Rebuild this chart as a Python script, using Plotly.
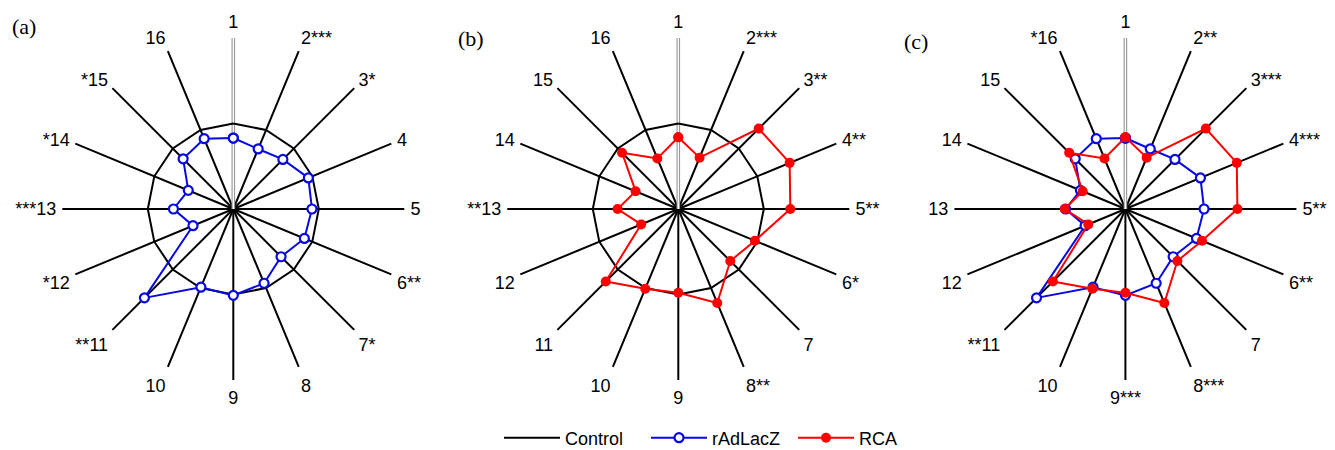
import plotly.graph_objects as go

n_spokes = 16
spoke_ids = list(range(1, n_spokes + 1))

control = [1.0] * 16
radlacz = [0.83, 0.76, 0.82, 0.95, 0.92, 0.90, 0.79, 0.94, 1.01, 0.99, 1.47, 0.51, 0.70, 0.57, 0.83, 0.89]
rca = [0.84, 0.65, 1.33, 1.41, 1.31, 0.97, 0.86, 1.19, 0.98, 1.01, 1.20, 0.47, 0.71, 0.54, 0.93, 0.64]

labels_a = ["1", "2***", "3*", "4", "5", "6**", "7*", "8", "9", "10", "**11", "*12", "***13", "*14", "*15", "16"]
labels_b = ["1", "2***", "3**", "4**", "5**", "6*", "7", "8**", "9", "10", "11", "12", "**13", "14", "15", "16"]
labels_c = ["1", "2**", "3***", "4***", "5***", "6**", "7", "8***", "9***", "10", "**11", "12", "13", "14", "15", "*16"]

panel_letters = ["(a)", "(b)", "(c)"]

thetas = [(i - 1) * 360 / n_spokes for i in spoke_ids]

# page body has an 8px default margin: the figure starts at (8, 8) in the window.
# Work in window coordinates and convert to paper coordinates.
OFF = 8
W, H = 1335 - OFF, 450 - OFF
centers_x = [233.3, 678.3, 1125.4]
center_y = 209
R = 171

BLUE = "#0808E0"
RED = "#FF0000"

fig = go.Figure()


def closed(v):
    return list(v) + [v[0]]


panels = [
    ("polar", labels_a, True, True, False),
    ("polar2", labels_b, True, False, True),
    ("polar3", labels_c, False, True, True),
]

legend_shown = set()
for key, labels, has_ctrl, has_blue, has_red in panels:
    # spoke 1: thin double grey line
    fig.add_trace(go.Scatterpolar(r=[0, 2], theta=[0, 0], mode="lines",
                                  line=dict(color="#9a9a9a", width=3.6),
                                  subplot=key, showlegend=False, hoverinfo="skip"))
    fig.add_trace(go.Scatterpolar(r=[0, 2], theta=[0, 0], mode="lines",
                                  line=dict(color="white", width=1.3),
                                  subplot=key, showlegend=False, hoverinfo="skip"))
    if has_ctrl:
        fig.add_trace(go.Scatterpolar(r=closed(control), theta=closed(thetas), mode="lines",
                                      line=dict(color="black", width=2),
                                      name="Control", legendgroup="Control",
                                      showlegend="Control" not in legend_shown, subplot=key))
        legend_shown.add("Control")
    if has_blue:
        fig.add_trace(go.Scatterpolar(r=closed(radlacz), theta=closed(thetas), mode="lines+markers",
                                      line=dict(color=BLUE, width=2),
                                      marker=dict(symbol="circle", size=9, color="white",
                                                  line=dict(color=BLUE, width=2.2)),
                                      name="rAdLacZ", legendgroup="rAdLacZ",
                                      showlegend="rAdLacZ" not in legend_shown, subplot=key))
        legend_shown.add("rAdLacZ")
    if has_red:
        fig.add_trace(go.Scatterpolar(r=closed(rca), theta=closed(thetas), mode="lines+markers",
                                      line=dict(color=RED, width=2),
                                      marker=dict(symbol="circle", size=10, color=RED,
                                                  line=dict(color=RED, width=0)),
                                      name="RCA", legendgroup="RCA",
                                      showlegend="RCA" not in legend_shown, subplot=key))
        legend_shown.add("RCA")

layout_polars = {}
for i, (key, labels, *_rest) in enumerate(panels):
    cx = centers_x[i] - OFF
    cy = H - (center_y - OFF)
    layout_polars[key] = dict(
        domain=dict(x=[(cx - R) / W, (cx + R) / W],
                    y=[(cy - R) / H, (cy + R) / H]),
        bgcolor="white",
        radialaxis=dict(visible=False, range=[0, 2]),
        angularaxis=dict(rotation=90, direction="clockwise",
                         tickmode="array", tickvals=thetas, ticktext=labels,
                         showline=False, ticks="outside", ticklen=2,
                         tickcolor="rgba(0,0,0,0)", showgrid=True,
                         gridcolor="black", gridwidth=2,
                         tickfont=dict(family="Liberation Sans, Arial", size=18, color="black")),
    )

annotations = []
letter_pos = [(10, 27), (456, 39), (902, 42)]
for letter, (px, py) in zip(panel_letters, letter_pos):
    annotations.append(dict(text=letter, x=(px - OFF) / W, y=1 - (py - OFF) / H,
                            xref="paper", yref="paper",
                            xanchor="left", yanchor="middle", showarrow=False,
                            font=dict(family="Liberation Serif, Times New Roman", size=22, color="black")))

fig.update_layout(
    width=W, height=H,
    margin=dict(l=0, r=0, t=0, b=0, autoexpand=False),
    paper_bgcolor="white",
    plot_bgcolor="white",
    showlegend=True,
    legend=dict(orientation="h", x=(499 - OFF) / W, y=1 - (438 - OFF) / H,
                xanchor="left", yanchor="middle",
                font=dict(family="Liberation Sans, Arial", size=18, color="black"),
                bgcolor="rgba(0,0,0,0)", itemwidth=56, entrywidth=76),
    annotations=annotations,
    **layout_polars,
)

fig.write_html("out.html")
